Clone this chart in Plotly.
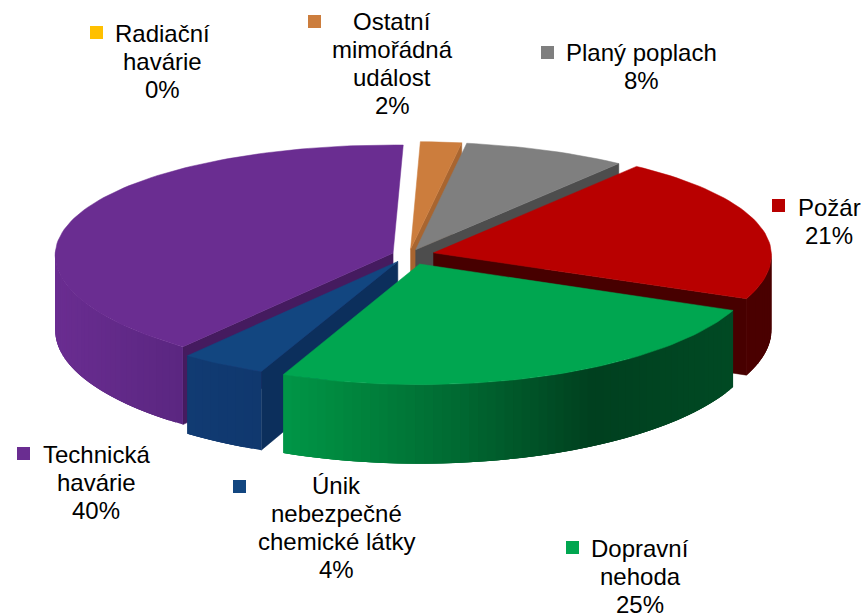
import math
import plotly.graph_objects as go

categories = ["Radiační havárie", "Ostatní mimořádná událost", "Planý poplach", "Požár",
              "Dopravní nehoda", "Únik nebezpečné chemické látky", "Technická havárie"]
values = [0, 2, 8, 21, 25, 4, 40]
label_lines = [["Radiační", "havárie"], ["Ostatní", "mimořádná", "událost"], ["Planý poplach"], ["Požár"],
               ["Dopravní", "nehoda"], ["Únik", "nebezpečné", "chemické látky"], ["Technická", "havárie"]]
top_colors = ["#ffc000", "#cc7d3d", "#7f7f7f", "#b80000", "#00a650", "#124680", "#6a2d91"]
cut_colors = ["#c09000", "#a86530", "#4d4d4d", "#470000", "#004a24", "#0c2f5c", "#451b5f"]
wall_stops = [
    [(-1, "#ffc000"), (1, "#ffc000")],
    [(-1, "#a86530"), (1, "#a86530")],
    [(-1, "#4d4d4d"), (1, "#4d4d4d")],
    [(-1, "#450000"), (1, "#4a0000")],
    [(-0.45, "#009a4a"), (-0.25, "#008a40"), (0.1, "#006a32"), (0.5, "#00401f"), (0.95, "#004a24")],
    [(-0.7, "#113c74"), (-0.4, "#10386e")],
    [(-1, "#6a2d91"), (-0.6, "#5a2680")],
]
explode = [0.05, 0.05, 0.05, 0.075, 0.085, 0.065, 0.05]
label_cx = [162, 392, 641, 829, 640, 336, 96]
label_cy = [61, 63, 66, 221, 576, 527, 482]
key_xy = [(90, 26), (308, 15), (541, 46), (772, 199), (566, 541), (233, 480), (17, 447)]
LINE_GAP = 28

CX, CY, RX, RY, PX, PY, H, ROT = 409, 255, 338, 114, 0.02, 0.05, 75, 1.7


def proj(X, Y, Z):
    return CX + RX * X * (1 + PX * Y), CY + RY * Y * (1 + PY * Y) + H * Z * (1 + PY * Y)


def hex2rgb(c):
    return [int(c[i:i + 2], 16) for i in (1, 3, 5)]


def grad(stops, u):
    if u <= stops[0][0]:
        return stops[0][1]
    for (a, ca), (b, cb) in zip(stops, stops[1:]):
        if u <= b:
            t = (u - a) / (b - a)
            r = [round(x + (y - x) * t) for x, y in zip(hex2rgb(ca), hex2rgb(cb))]
            return "rgb(%d,%d,%d)" % tuple(r)
    return stops[-1][1]


fig = go.Figure()


def poly(pts, color, lw=0.5):
    fig.add_trace(go.Scatter(x=[p[0] for p in pts] + [pts[0][0]], y=[p[1] for p in pts] + [pts[0][1]],
                             mode="lines", fill="toself", fillcolor=color,
                             line=dict(color=color, width=lw), hoverinfo="skip", showlegend=False))


total = sum(values)
ang = ROT
slices = []
for i, v in enumerate(values):
    span = v / total * 360
    slices.append((i, ang, ang + span))
    ang += span

order = [1, 2, 6, 3, 5, 4]
for i in order:
    a0, a1 = slices[i][1], slices[i][2]
    mid = math.radians((a0 + a1) / 2)
    ox, oy = explode[i] * math.sin(mid), -explode[i] * math.cos(mid)
    n = max(4, int((a1 - a0) / 1.5))
    arc = []
    for k in range(n + 1):
        t = math.radians(a0 + (a1 - a0) * k / n)
        arc.append((ox + math.sin(t), oy - math.cos(t)))
    # cut faces, only those turned towards the viewer
    if -math.sin(math.radians(a0)) > 0.1:
        poly([proj(ox, oy, 0), proj(*arc[0], 0), proj(*arc[0], 1), proj(ox, oy, 1)], cut_colors[i])
    if math.sin(math.radians(a1)) > 0.1:
        poly([proj(ox, oy, 0), proj(*arc[-1], 0), proj(*arc[-1], 1), proj(ox, oy, 1)], cut_colors[i])
    # outer wall: each band overlaps the next so no seam shows
    for k in range(n):
        p, q = arc[k], arc[min(k + 1, n)]
        r = arc[min(k + 3, n)]
        if (p[1] - oy) + (q[1] - oy) > -0.02:
            um = ((p[0] - ox) + (q[0] - ox)) / 2
            band = [p, q] if r == q else [p, q, r]
            poly([proj(*b, 0) for b in band] + [proj(*b, 1) for b in reversed(band)],
                 grad(wall_stops[i], um), lw=0)
    poly([proj(ox, oy, 0)] + [proj(a, b, 0) for a, b in arc], top_colors[i])

shapes = []
annotations = []
for i, v in enumerate(values):
    kx, ky = key_xy[i]
    shapes.append(dict(type="rect", xref="x", yref="y", x0=kx, x1=kx + 13, y0=ky, y1=ky + 13,
                       fillcolor=top_colors[i], line=dict(width=0)))
    lines = label_lines[i] + [f"{v}%"]
    for j, line in enumerate(lines):
        annotations.append(dict(x=label_cx[i], y=label_cy[i] + (j - (len(lines) - 1) / 2) * LINE_GAP,
                                xref="x", yref="y", showarrow=False, xanchor="center", yanchor="middle",
                                text=line, font=dict(family="Liberation Sans, Arial", size=24, color="black")))

fig.update_layout(width=863, height=614, margin=dict(l=0, r=0, t=0, b=0),
                  paper_bgcolor="white", plot_bgcolor="white", showlegend=False,
                  shapes=shapes, annotations=annotations,
                  xaxis=dict(range=[0, 863], visible=False, fixedrange=True),
                  yaxis=dict(range=[614, 0], visible=False, fixedrange=True))
fig.write_html("out.html", config=dict(displayModeBar=False),
               post_script="document.body.style.margin='0';document.body.style.overflow='hidden';")
